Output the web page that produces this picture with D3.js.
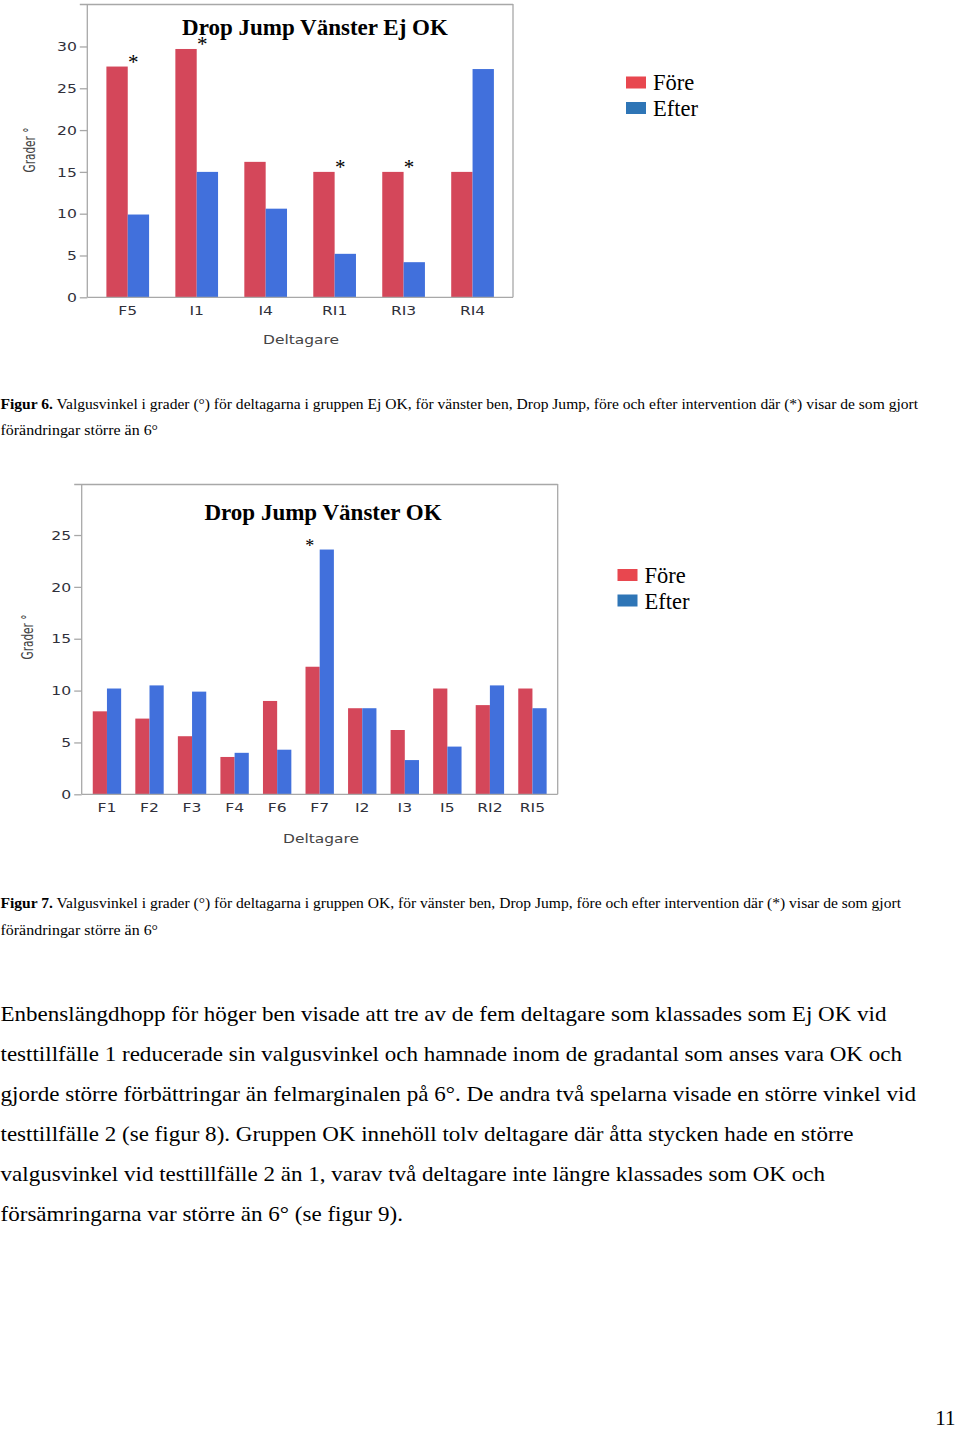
<!DOCTYPE html>
<html><head><meta charset="utf-8">
<script src="https://cdnjs.cloudflare.com/ajax/libs/d3/7.8.5/d3.min.js"></script>
<style>
html,body{margin:0;padding:0;background:#fff;}
svg{display:block;}
</style></head>
<body>
<script>
// ---------- data ----------
const seriesNames = ["Före", "Efter"];

const cats1 = ["F5", "I1", "I4", "RI1", "RI3", "RI4"];
const fore1 = [27.6, 29.7, 16.2, 15, 15, 15];
const efter1 = [9.9, 15, 10.6, 5.2, 4.2, 27.3];
const stars1 = ["F5", "I1", "RI1", "RI3"];
const ticks1 = [0, 5, 10, 15, 20, 25, 30];
const title1 = "Drop Jump Vänster Ej OK";

const cats2 = ["F1", "F2", "F3", "F4", "F6", "F7", "I2", "I3", "I5", "RI2", "RI5"];
const fore2 = [8.0, 7.3, 5.6, 3.6, 9.0, 12.3, 8.3, 6.2, 10.2, 8.6, 10.2];
const efter2 = [10.2, 10.5, 9.9, 4.0, 4.3, 23.6, 8.3, 3.3, 4.6, 10.5, 8.3];
const stars2 = ["F7"];
const ticks2 = [0, 5, 10, 15, 20, 25];
const title2 = "Drop Jump Vänster OK";

const xTitle = "Deltagare";
const yTitle = "Grader °";

const caption6 = ["Figur 6.", " Valgusvinkel i grader (°) för deltagarna i gruppen Ej OK, för vänster ben, Drop Jump, före och efter intervention där (*) visar de som gjort"];
const caption7 = ["Figur 7.", " Valgusvinkel i grader (°) för deltagarna i gruppen OK, för vänster ben, Drop Jump, före och efter intervention där (*) visar de som gjort"];
const captionLine2 = "förändringar större än 6°";

const bodyLines = [
  "Enbenslängdhopp för höger ben visade att tre av de fem deltagare som klassades som Ej OK vid",
  "testtillfälle 1 reducerade sin valgusvinkel och hamnade inom de gradantal som anses vara OK och",
  "gjorde större förbättringar än felmarginalen på 6°. De andra två spelarna visade en större vinkel vid",
  "testtillfälle 2 (se figur 8). Gruppen OK innehöll tolv deltagare där åtta stycken hade en större",
  "valgusvinkel vid testtillfälle 2 än 1, varav två deltagare inte längre klassades som OK och",
  "försämringarna var större än 6° (se figur 9)."
];
const pageNumber = "11";

// ---------- styles ----------
const barColors = ["#D4475A", "#4170DC"];
const legendColors = ["#E8474F", "#2E75B6"];
const axisColor = "#a8a8a8";
const tickTextColor = "#30303a";
const serif = "'Liberation Serif','Times New Roman',serif";
const sans = "'DejaVu Sans',Verdana,sans-serif";
const stretch = 1.2;

const svg = d3.select("body").append("svg")
  .attr("width", 960).attr("height", 1429)
  .attr("viewBox", "0 0 960 1429");

function drawChart(o) {
  const g = svg.append("g");
  const x0 = d3.scaleBand().domain(o.cats).range([o.left, o.right])
    .paddingInner(o.padIn).paddingOuter(o.padOut);
  const x1 = d3.scaleBand().domain(seriesNames).range([0, x0.bandwidth()]);
  const y = d3.scaleLinear().domain([0, o.yMax]).range([o.bottom, o.top]);

  const rows = o.cats.map((c, i) => ({cat: c, vals: [o.fore[i], o.efter[i]]}));

  // bars
  const grp = g.selectAll("g.grp").data(rows).join("g")
    .attr("class", "grp")
    .attr("transform", d => `translate(${x0(d.cat)},0)`);
  grp.selectAll("rect").data(d => d.vals.map((v, k) => ({k, v}))).join("rect")
    .attr("x", d => x1(seriesNames[d.k]))
    .attr("width", x1.bandwidth())
    .attr("y", d => y(d.v))
    .attr("height", d => y(0) - y(d.v))
    .attr("fill", d => barColors[d.k]);

  // frame: top and right border
  const tl = 7.5;
  g.append("line").attr("x1", o.left - tl).attr("x2", o.right)
    .attr("y1", o.top + 0.5).attr("y2", o.top + 0.5)
    .attr("stroke", axisColor).attr("stroke-width", 1.3);
  g.append("line").attr("x1", o.right).attr("x2", o.right)
    .attr("y1", o.top).attr("y2", o.bottom)
    .attr("stroke", axisColor).attr("stroke-width", 1.3);

  // y axis
  const ya = g.append("g").attr("transform", `translate(${o.left},0)`)
    .call(d3.axisLeft(y).tickValues(o.ticks).tickSize(tl).tickPadding(3).tickSizeOuter(0));
  ya.select(".domain").attr("stroke", axisColor).attr("stroke-width", 1.3)
    .attr("d", `M0,${o.top}V${o.bottom}`);
  ya.selectAll(".tick line").attr("stroke", axisColor).attr("stroke-width", 1.3);
  ya.selectAll(".tick text").attr("fill", tickTextColor)
    .style("font-family", sans).style("font-size", "13px")
    .attr("x", -(tl + 3) / stretch)
    .attr("transform", `scale(${stretch},1)`);

  // x axis
  const xa = g.append("g").attr("transform", `translate(0,${o.bottom})`)
    .call(d3.axisBottom(x0).tickSize(0).tickPadding(8).tickSizeOuter(0));
  xa.select(".domain").attr("stroke", axisColor).attr("stroke-width", 1.3)
    .attr("d", `M${o.left},0H${o.right}`);
  xa.selectAll(".tick text").attr("fill", tickTextColor)
    .style("font-family", sans).style("font-size", "13px")
    .attr("transform", `scale(${stretch},1)`);

  // axis titles
  g.append("text").attr("x", o.xTitleX).attr("y", o.xTitleY)
    .attr("text-anchor", "middle").attr("fill", "#444")
    .attr("textLength", 76).attr("lengthAdjust", "spacingAndGlyphs")
    .style("font-family", sans).style("font-size", "13px").text(xTitle);
  g.append("text")
    .attr("transform", `translate(${o.yTitleX},${o.yTitleY}) rotate(-90)`)
    .attr("text-anchor", "middle").attr("fill", "#444")
    .attr("textLength", 45).attr("lengthAdjust", "spacingAndGlyphs")
    .style("font-family", sans).style("font-size", "15px").text(yTitle);

  // title
  g.append("text").attr("x", o.titleX).attr("y", o.titleY)
    .attr("text-anchor", "middle").attr("fill", "#000")
    .style("font-family", serif).style("font-weight", "bold").style("font-size", "23px")
    .text(o.title);

  // significance stars
  const starRows = rows.filter(r => o.stars.includes(r.cat));
  g.selectAll("text.star").data(starRows).join("text")
    .attr("class", "star")
    .attr("x", d => x0(d.cat) + x0.bandwidth() / 2 + (d.vals[1] < d.vals[0] ? 5.5 : -10))
    .attr("y", d => y(Math.max(d.vals[0], d.vals[1])) + 2)
    .attr("text-anchor", "middle").attr("fill", "#000")
    .style("font-family", serif).style("font-size", o.starSize + "px")
    .text("*");

  // legend
  const lg = g.append("g");
  seriesNames.forEach((s, k) => {
    lg.append("rect").attr("x", o.legX).attr("y", o.legY + k * 25.5)
      .attr("width", 20).attr("height", 12).attr("fill", legendColors[k]);
    lg.append("text").attr("x", o.legX + 27).attr("y", o.legY + 13.5 + k * 26)
      .attr("fill", "#000").style("font-family", serif).style("font-size", "22.5px")
      .text(s);
  });
}

drawChart({
  cats: cats1, fore: fore1, efter: efter1, stars: stars1, ticks: ticks1, title: title1,
  left: 87.3, right: 513, top: 4, bottom: 297.3, yMax: 35.08,
  padIn: 0.381, padOut: 0.277,
  titleX: 315, titleY: 34.5,
  xTitleX: 301, xTitleY: 344, yTitleX: 35, yTitleY: 150,
  legX: 626, legY: 76.5, starSize: 21
});

drawChart({
  cats: cats2, fore: fore2, efter: efter2, stars: stars2, ticks: ticks2, title: title2,
  left: 81.7, right: 557.7, top: 484, bottom: 794.3, yMax: 29.92,
  padIn: 0.333, padOut: 0.26,
  titleX: 323, titleY: 519.5,
  xTitleX: 321, xTitleY: 843, yTitleX: 33, yTitleY: 637,
  legX: 617.5, legY: 569, starSize: 18
});

// ---------- captions & body text ----------
function caption(parts, y1, w1, y2, w2) {
  const t = svg.append("text").attr("x", 0.5).attr("y", y1)
    .attr("textLength", w1).attr("lengthAdjust", "spacingAndGlyphs")
    .style("font-family", serif).style("font-size", "15px").attr("fill", "#000");
  t.append("tspan").style("font-weight", "bold").text(parts[0]);
  t.append("tspan").text(parts[1]);
  svg.append("text").attr("x", 0.5).attr("y", y2)
    .attr("textLength", w2).attr("lengthAdjust", "spacingAndGlyphs")
    .style("font-family", serif).style("font-size", "15px").attr("fill", "#000")
    .text(captionLine2);
}
caption(caption6, 409, 917.5, 435, 157.5);
caption(caption7, 908, 900.5, 935, 157.5);

const bodyWidths = [886, 901.5, 915.5, 853, 824.5, 402.5];
bodyLines.forEach((line, i) => {
  svg.append("text").attr("x", 0.5).attr("y", 1021 + i * 39.9)
    .attr("textLength", bodyWidths[i]).attr("lengthAdjust", "spacingAndGlyphs")
    .style("font-family", serif).style("font-size", "22px").attr("fill", "#000")
    .text(line);
});

svg.append("text").attr("x", 955.5).attr("y", 1425).attr("text-anchor", "end")
  .style("font-family", serif).style("font-size", "21px").attr("fill", "#000")
  .text(pageNumber);
</script>
</body></html>
